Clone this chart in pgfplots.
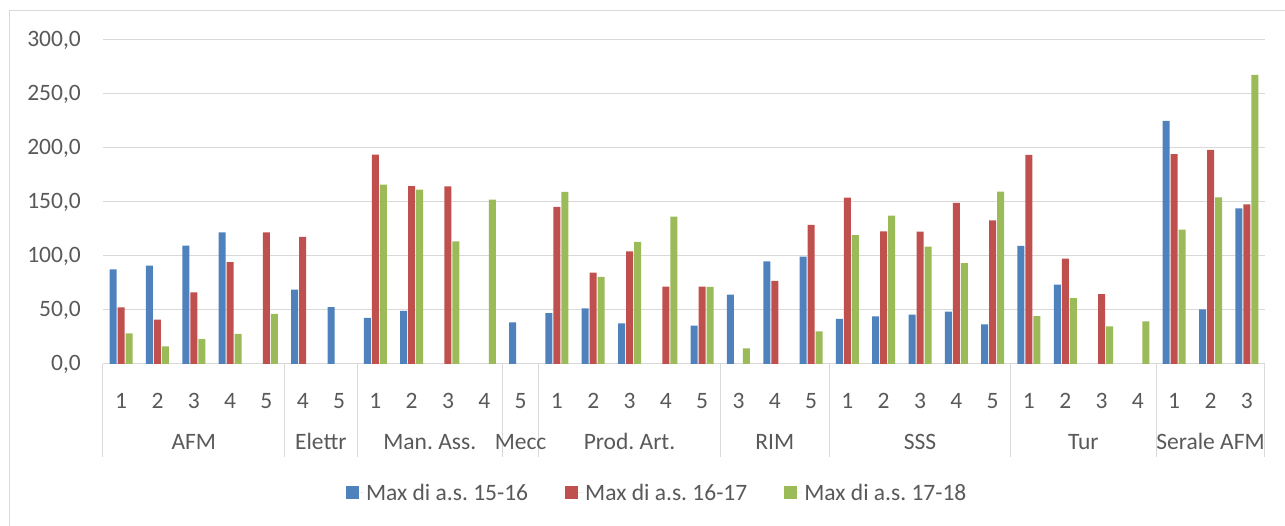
\documentclass[border=0pt]{standalone}
\usepackage{pgfplots}
\pgfplotsset{compat=1.18}
\usepackage{fontspec}
\setmainfont{Carlito}
\frenchspacing
\definecolor{sblue}{HTML}{4F81BD}
\definecolor{sred}{HTML}{C0504D}
\definecolor{sgreen}{HTML}{9BBB59}
\definecolor{gridgray}{HTML}{D9D9D9}
\definecolor{txtgray}{HTML}{595959}
\newcommand{\cf}{\fontsize{23.5}{28}\selectfont}
\begin{document}
\begin{tikzpicture}
\useasboundingbox (0pt,0pt) rectangle (1285pt,526pt);
\draw[gridgray, line width=1pt] (9pt,-10pt) -- (9pt,515pt) -- (1300pt,515pt);
\begin{axis}[
  at={(103pt,162pt)}, anchor=south west,
  scale only axis, width=1162pt, height=324pt,
  xmin=-0.5, xmax=31.5, ymin=0, ymax=300,
  ybar=1pt, bar width=7pt,
  axis x line*=bottom, axis y line*=left,
  x axis line style={gridgray, line width=1pt, -},
  y axis line style={draw=none},
  xtick={0,...,31},
  xticklabels={1,2,3,4,5,4,5,1,2,3,4,5,1,2,3,4,5,3,4,5,1,2,3,4,5,1,2,3,4,1,2,3},
  xtick style={draw=none}, ytick style={draw=none},
  ytick={0,50,...,300},
  ymajorgrids, grid style={gridgray, line width=1pt},
  tick label style={font=\cf, text=txtgray},
  xticklabel style={anchor=base, yshift=-40.5pt},
  yticklabel style={anchor=east, inner sep=0pt, xshift=-22pt},
  /pgf/number format/.cd, fixed, fixed zerofill, precision=1, use comma, assume math mode=true,
  /pgfplots/.cd,
  clip=false,
  legend columns=3,
  legend cell align=left,
  legend style={at={(0.477,-0.398)}, anchor=center, draw=none, font=\cf, text=txtgray,
    /tikz/every even column/.append style={column sep=35pt}},
  legend image code/.code={\fill[#1] (0pt,-6.5pt) rectangle (13pt,6.5pt); \path (0pt,0pt) -- (18pt,0pt);},
]
\addplot[fill=sblue, draw=none] coordinates {
 (0,87.7) (1,91.0) (2,109.6) (3,121.9) (5,68.8) (6,52.6) (7,42.6) (8,49.1)
 (11,38.6) (12,47.2) (13,51.5) (14,37.7) (16,35.5) (17,64.2) (18,95.1) (19,99.4)
 (20,41.7) (21,44.1) (22,45.7) (23,48.5) (24,36.6) (25,109.3) (26,73.6)
 (29,225.1) (30,50.5) (31,144.1)};
\addlegendentry{Max di a.s. 15-16}
\addplot[fill=sred, draw=none] coordinates {
 (0,52.5) (1,41.0) (2,66.4) (3,94.4) (4,121.9) (5,117.6) (7,193.8) (8,164.8)
 (9,164.5) (12,145.4) (13,84.6) (14,104.3) (15,71.6) (16,71.6) (18,76.9) (19,128.7)
 (20,154.0) (21,122.8) (22,122.5) (23,149.1) (24,133.0) (25,193.7) (26,97.6) (27,64.7)
 (29,194.3) (30,198.3) (31,147.8)};
\addlegendentry{Max di a.s. 16-17}
\addplot[fill=sgreen, draw=none] coordinates {
 (0,28.4) (1,16.4) (2,23.1) (3,27.8) (4,46.3) (7,166.0) (8,161.4) (9,113.6)
 (10,152.2) (12,159.3) (13,80.6) (14,113.0) (15,136.4) (16,71.3) (17,14.5) (19,30.2)
 (20,119.4) (21,137.3) (22,108.6) (23,93.5) (24,159.5) (25,44.3) (26,61.0) (27,34.8)
 (28,39.4) (29,124.4) (30,154.3) (31,267.6)};
\addlegendentry{Max di a.s. 17-18}
\pgfplotsinvokeforeach{-0.5,4.5,6.5,10.5,11.5,16.5,19.5,24.5,28.5,31.5}{
  \draw[gridgray, line width=1pt] (axis cs:#1,0) -- ++(0pt,-93pt);
}
\node[anchor=base, font=\cf, text=txtgray, inner sep=0pt] at ([yshift=-86pt]axis cs:2,0) {AFM};
\node[anchor=base, font=\cf, text=txtgray, inner sep=0pt] at ([yshift=-86pt]axis cs:5.5,0) {Elettr};
\node[anchor=base, font=\cf, text=txtgray, inner sep=0pt] at ([yshift=-86pt]axis cs:8.5,0) {Man. Ass.};
\node[anchor=base, font=\cf, text=txtgray, inner sep=0pt] at ([yshift=-86pt]axis cs:11,0) {Mecc};
\node[anchor=base, font=\cf, text=txtgray, inner sep=0pt] at ([yshift=-86pt]axis cs:14,0) {Prod. Art.};
\node[anchor=base, font=\cf, text=txtgray, inner sep=0pt] at ([yshift=-86pt]axis cs:18,0) {RIM};
\node[anchor=base, font=\cf, text=txtgray, inner sep=0pt] at ([yshift=-86pt]axis cs:22,0) {SSS};
\node[anchor=base, font=\cf, text=txtgray, inner sep=0pt] at ([yshift=-86pt]axis cs:26.5,0) {Tur};
\node[anchor=base, font=\cf, text=txtgray, inner sep=0pt] at ([yshift=-86pt]axis cs:30,0) {Serale AFM};
\end{axis}
\end{tikzpicture}
\end{document}
